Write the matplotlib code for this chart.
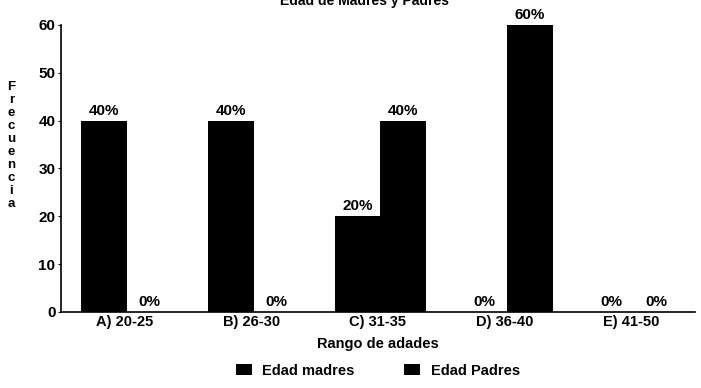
import matplotlib.pyplot as plt
import numpy as np

categories = ["A) 20-25", "B) 26-30", "C) 31-35", "D) 36-40", "E) 41-50"]
madres = [40, 40, 20, 0, 0]
padres = [0, 0, 40, 60, 0]
series_names = ["Edad madres", "Edad Padres"]
yticks = [0, 10, 20, 30, 40, 50, 60]

plt.rcParams['font.family'] = ['Liberation Sans', 'DejaVu Sans']
plt.rcParams['font.weight'] = 'bold'

fig = plt.figure(figsize=(7.01, 3.88), dpi=100)
ax = fig.add_axes([0.087, 0.196, 0.904, 0.74])

x = np.arange(len(categories))
w = 0.36
b1 = ax.bar(x - w / 2 + 0.02, madres, w, color='black', label=series_names[0])
b2 = ax.bar(x + w / 2 + 0.02, padres, w, color='black', label=series_names[1])

# etiquetas de porcentaje encima de cada barra
for bars, vals in ((b1, madres), (b2, padres)):
    for rect, v in zip(bars, vals):
        ax.text(rect.get_x() + rect.get_width() / 2, v + 0.6, f"{v}%",
                ha='center', va='bottom', fontsize=11, fontweight='bold')

ax.set_xlim(-0.5, len(categories) - 0.5)
ax.set_ylim(0, 60)
ax.set_yticks(yticks)
ax.set_yticklabels([str(t) for t in yticks], fontsize=11, fontweight='bold')
ax.set_xticks(x)
ax.set_xticklabels(categories, fontsize=10.5, fontweight='bold')
ax.tick_params(axis='x', length=0, pad=2)
ax.tick_params(axis='y', length=2, pad=2)
for s in ('top', 'right'):
    ax.spines[s].set_visible(False)
ax.spines['left'].set_linewidth(1.2)
ax.spines['bottom'].set_linewidth(1.2)

ax.set_xlabel("Rango de adades", fontsize=10.5, fontweight='bold', labelpad=6)

# eje y escrito letra por letra
fig.text(0.016, 0.625, "\n".join("Frecuencia"), ha='center', va='center',
         fontsize=9.5, fontweight='bold', linespacing=1.12)

# titulo cortado arriba, como en la imagen escaneada
fig.text(0.52, 0.988, "Edad de Madres y Padres", ha='center', va='baseline',
         fontsize=10, fontweight='bold')

fig.legend(handles=[b1, b2], labels=series_names, loc='center',
           bbox_to_anchor=(0.539, 0.045), ncol=2, frameon=False,
           fontsize=10.5, handlelength=1.1, handleheight=0.8,
           columnspacing=3.4, handletextpad=0.7)

fig.savefig("out.png", dpi=100)
